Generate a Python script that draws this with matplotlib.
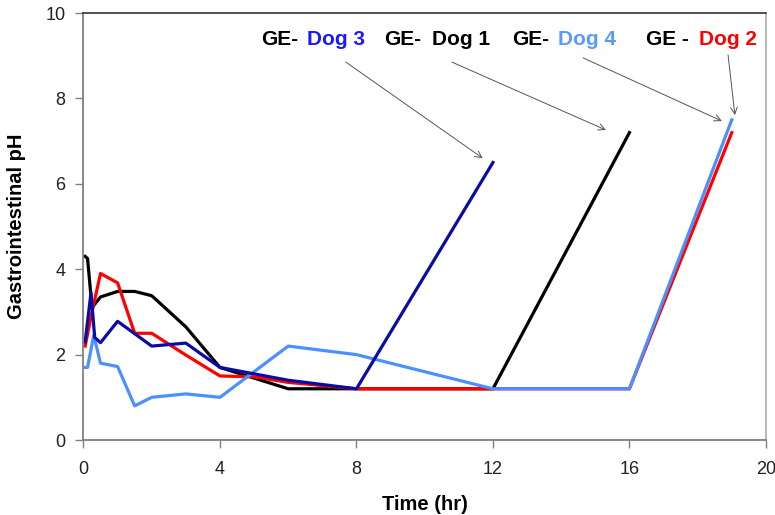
import matplotlib.pyplot as plt

plt.rcParams["font.family"] = ["Liberation Sans", "DejaVu Sans"]

# pH readings per dog, time in hours
dog1_t = [0.05, 0.12, 0.25, 0.5, 1, 1.5, 2, 3, 4, 6, 8, 12, 16]
dog1_ph = [4.3, 4.25, 3.1, 3.35, 3.48, 3.48, 3.38, 2.65, 1.7, 1.2, 1.2, 1.2, 7.2]

dog2_t = [0.05, 0.25, 0.5, 1, 1.5, 2, 3, 4, 5, 6, 8, 12, 16, 19]
dog2_ph = [2.2, 3.0, 3.9, 3.68, 2.5, 2.5, 1.99, 1.5, 1.48, 1.35, 1.2, 1.2, 1.2, 7.2]

dog3_t = [0.05, 0.22, 0.33, 0.5, 1, 2, 3, 4, 6, 8, 12]
dog3_ph = [2.3, 3.45, 2.4, 2.28, 2.78, 2.2, 2.27, 1.7, 1.4, 1.2, 6.5]

dog4_t = [0.05, 0.12, 0.3, 0.5, 1, 1.5, 2, 3, 4, 6, 8, 12, 16, 19]
dog4_ph = [1.7, 1.7, 2.45, 1.8, 1.72, 0.8, 1.0, 1.08, 1.0, 2.2, 2.0, 1.2, 1.2, 7.5]

labels = ["Dog 3", "Dog 1", "Dog 4", "Dog 2"]
label_prefix = ["GE-", "GE-", "GE-", "GE -"]

fig = plt.figure(figsize=(7.75, 5.15), dpi=100)
ax = fig.add_axes([0.1077, 0.1456, 0.8806, 0.8291])

lw = 2.3
ax.plot(dog1_t, dog1_ph, color="black", lw=lw)
ax.plot(dog2_t, dog2_ph, color="#ff0000", lw=lw)
ax.plot(dog4_t, dog4_ph, color="#4a90ff", lw=lw)
ax.plot(dog3_t, dog3_ph, color="#0a0aa8", lw=lw)

ax.set_xlim(0, 20)
ax.set_ylim(0, 10)
ax.set_xticks(range(0, 21, 4))
ax.set_yticks(range(0, 11, 2))

ax.spines["top"].set_color("#333333")
ax.spines["top"].set_linewidth(1.2)
ax.spines["right"].set_color("#aaaaaa")
ax.spines["right"].set_linewidth(1.2)
for side in ("left", "bottom"):
    ax.spines[side].set_color("#808080")
    ax.spines[side].set_linewidth(1.3)
ax.tick_params(direction="out", length=6, width=1, color="#808080",
               labelsize=13, labelcolor="#222222")
ax.tick_params(axis="x", pad=9)
ax.tick_params(axis="y", pad=7)

ax.set_xlabel("Time (hr)", fontsize=14.5, fontweight="bold", labelpad=12)
ax.set_ylabel("Gastrointestinal pH", fontsize=14.5, fontweight="bold", labelpad=14)

# annotation labels: prefix black, dog name coloured
name_colors = ["#1a1aff", "black", "#5a9aff", "#ff0000"]
prefix_x = [5.20, 8.81, 12.56, 16.48]
name_x = [6.56, 10.21, 13.90, 18.05]
label_y = 9.37
for prefix, name, col, xp, xn in zip(label_prefix, labels, name_colors, prefix_x, name_x):
    ax.text(xp, label_y, prefix, fontsize=15, fontweight="bold",
            color="black", va="center", ha="left")
    ax.text(xn, label_y, name, fontsize=15, fontweight="bold",
            color=col, va="center", ha="left")

arrow_start = [(7.69, 8.85), (10.80, 8.85), (14.64, 8.95), (18.89, 9.02)]
arrow_end = [(11.70, 6.60), (15.31, 7.26), (18.71, 7.47), (19.09, 7.61)]
for s, e in zip(arrow_start, arrow_end):
    ax.annotate("", xy=e, xytext=s,
                arrowprops=dict(arrowstyle="->", color="#555555", lw=0.7,
                                shrinkA=0, shrinkB=0, mutation_scale=12))

fig.savefig("out.png", dpi=100)
